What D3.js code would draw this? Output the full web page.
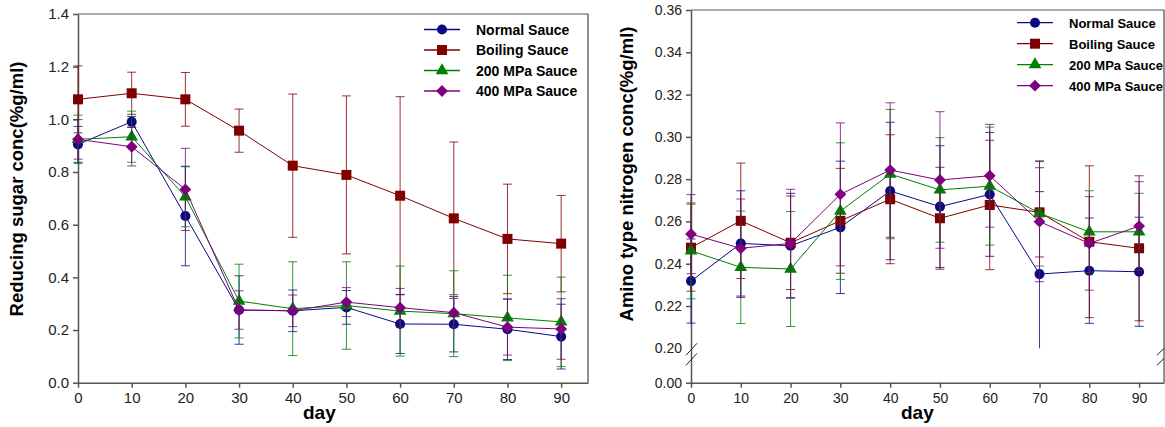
<!DOCTYPE html>
<html>
<head>
<meta charset="utf-8">
<script src="https://cdn.jsdelivr.net/npm/d3@7"></script>
<style>
  body { margin: 0; background: #fff; }
  svg { display: block; font-family: Arial, "Liberation Sans", sans-serif; }
</style>
</head>
<body>
<svg id="chart" width="1165" height="427"></svg>
<script>
// storage days
const days = [0, 10, 20, 30, 40, 50, 60, 70, 80, 90];
const seriesNames = ['Normal Sauce', 'Boiling Sauce', '200 MPa Sauce', '400 MPa Sauce'];

// reducing sugar (%g/ml) mean and error
const sugarNormal = [0.905, 0.991, 0.633, 0.276, 0.273, 0.286, 0.223, 0.222, 0.203, 0.175];
const sugarNormalErr = [0.068, 0.02, 0.189, 0.13, 0.079, 0.064, 0.112, 0.105, 0.115, 0.123];
const sugarBoiling = [1.076, 1.099, 1.076, 0.957, 0.824, 0.789, 0.710, 0.624, 0.546, 0.528];
const sugarBoilingErr = [0.127, 0.08, 0.102, 0.082, 0.272, 0.30, 0.376, 0.29, 0.208, 0.183];
const sugar200 = [0.924, 0.934, 0.706, 0.310, 0.281, 0.293, 0.272, 0.262, 0.246, 0.231];
const sugar200Err = [0.092, 0.097, 0.114, 0.14, 0.178, 0.166, 0.171, 0.163, 0.162, 0.17];
const sugar400 = [0.924, 0.896, 0.734, 0.276, 0.273, 0.306, 0.285, 0.266, 0.211, 0.204];
const sugar400Err = [0.075, 0.073, 0.156, 0.073, 0.06, 0.055, 0.073, 0.054, 0.106, 0.115];

// amino type nitrogen (%g/ml) mean and error
const aminoNormal = [0.2318, 0.2496, 0.2485, 0.2572, 0.2744, 0.2670, 0.2728, 0.2351, 0.2367, 0.2362];
const aminoNormalErr = [0.0199, 0.0249, 0.0248, 0.0313, 0.0325, 0.0288, 0.0293, 0.0390, 0.0249, 0.0258];
const aminoBoiling = [0.2476, 0.2603, 0.2499, 0.2603, 0.2705, 0.2615, 0.2678, 0.2643, 0.2504, 0.2473];
const aminoBoilingErr = [0.0206, 0.0273, 0.0221, 0.0248, 0.0305, 0.0241, 0.0306, 0.0211, 0.0359, 0.0343];
const amino200 = [0.2461, 0.2383, 0.2375, 0.2649, 0.2824, 0.2749, 0.2767, 0.2638, 0.2551, 0.2551];
const amino200Err = [0.0227, 0.0266, 0.0272, 0.0323, 0.0306, 0.0247, 0.0279, 0.0249, 0.0194, 0.0182];
const amino400 = [0.2540, 0.2473, 0.2496, 0.2728, 0.2843, 0.2796, 0.2816, 0.2599, 0.2496, 0.2578];
const amino400Err = [0.0187, 0.0233, 0.0256, 0.0338, 0.0318, 0.0323, 0.0243, 0.0284, 0.0221, 0.0210];

const sugarTicks = [0, 0.2, 0.4, 0.6, 0.8, 1.0, 1.2, 1.4];
const aminoTicks = [0, 0.20, 0.22, 0.24, 0.26, 0.28, 0.30, 0.32, 0.34, 0.36];

const colors = ['#0a0a85', '#800000', '#008000', '#800080'];
const shapes = ['circle', 'square', 'triangle', 'diamond'];

const svg = d3.select('#chart');

function marker(sel, shape, color) {
  let sym;
  if (shape === 'circle') sym = d3.symbol(d3.symbolCircle, 80);
  else if (shape === 'square') sym = d3.symbol(d3.symbolSquare, 100);
  else if (shape === 'triangle') sym = d3.symbol(d3.symbolTriangle, 70);
  else sym = d3.symbol(d3.symbolSquare, 70);
  sel.append('path')
    .attr('d', sym())
    .attr('fill', color)
    .attr('transform', function () {
      const t = d3.select(this).attr('transform') || '';
      return t + (shape === 'diamond' ? ' rotate(45)' : '');
    });
}

function drawPanel(cfg) {
  const x = d3.scaleLinear().domain([0, 95]).range([cfg.left, cfg.right]);
  const y = d3.scaleLinear().domain(cfg.yDomain).range(cfg.yRange);
  const g = svg.append('g');

  // frame top/right
  g.append('line').attr('x1', cfg.left).attr('x2', cfg.right).attr('y1', cfg.top).attr('y2', cfg.top)
    .attr('stroke', '#555').attr('stroke-width', 1.2);
  g.append('line').attr('x1', cfg.right).attr('x2', cfg.right).attr('y1', cfg.top).attr('y2', cfg.bottom)
    .attr('stroke', '#222').attr('stroke-width', 1);

  const xAxis = g.append('g')
    .attr('transform', `translate(0,${cfg.bottom})`)
    .call(d3.axisBottom(x).tickValues(days).tickSize(5).tickSizeOuter(0).tickPadding(5));
  xAxis.selectAll('text').attr('font-size', cfg.tickFont).attr('fill', '#222');
  xAxis.selectAll('path, line').attr('stroke', '#555').attr('stroke-width', 1.5);

  const yAxis = g.append('g')
    .attr('transform', `translate(${cfg.left},0)`)
    .call(d3.axisLeft(y).tickValues(cfg.ticks).tickFormat(d3.format(cfg.fmt)).tickSize(5).tickSizeOuter(0).tickPadding(4));
  yAxis.selectAll('text').attr('font-size', cfg.tickFont).attr('fill', '#222');
  yAxis.selectAll('path, line').attr('stroke', '#555').attr('stroke-width', 1.5);
  if (cfg.breakAt !== undefined) {
    yAxis.selectAll('.tick').filter(d => d === cfg.breakAt).select('line').remove();
  }

  // axis titles
  g.append('text')
    .attr('transform', `translate(${cfg.titleX},${cfg.titleY}) rotate(-90)`)
    .attr('text-anchor', 'middle')
    .attr('font-weight', 'bold').attr('font-size', '18.5px')
    .text(cfg.yTitle);
  g.append('text')
    .attr('x', cfg.dayX).attr('y', 419)
    .attr('font-weight', 'bold').attr('font-size', '19px')
    .text('day');

  const floor = cfg.breakAt !== undefined ? cfg.breakAt : -Infinity;

  cfg.series.forEach((s, i) => {
    const col = colors[i];
    const pts = days.map((d, k) => ({ day: d, v: s.values[k], e: s.errs[k] }));

    // error bars
    const eb = g.append('g').attr('stroke', col).attr('stroke-width', 1).attr('stroke-opacity', 0.8);
    pts.forEach(p => {
      const hi = p.v + p.e, lo = Math.max(p.v - p.e, floor);
      eb.append('line').attr('x1', x(p.day)).attr('x2', x(p.day)).attr('y1', y(hi)).attr('y2', y(lo));
      eb.append('line').attr('x1', x(p.day) - 4.5).attr('x2', x(p.day) + 4.5).attr('y1', y(hi)).attr('y2', y(hi));
      if (p.v - p.e > floor) {
        eb.append('line').attr('x1', x(p.day) - 4.5).attr('x2', x(p.day) + 4.5).attr('y1', y(lo)).attr('y2', y(lo));
      }
    });

    g.append('path')
      .datum(pts)
      .attr('fill', 'none').attr('stroke', col).attr('stroke-width', 1)
      .attr('d', d3.line().x(p => x(p.day)).y(p => y(p.v)));

    pts.forEach(p => {
      const m = g.append('g').attr('transform', `translate(${x(p.day)},${y(p.v)})`);
      marker(m, shapes[i], col);
    });

    // legend row
    const ly = cfg.legY + i * cfg.legStep;
    g.append('line').attr('x1', cfg.legX).attr('x2', cfg.legX + 36).attr('y1', ly).attr('y2', ly)
      .attr('stroke', col).attr('stroke-width', 1.3);
    const lm = g.append('g').attr('transform', `translate(${cfg.legX + 18},${ly})`);
    marker(lm, shapes[i], col);
    g.append('text').attr('x', cfg.legX + 52).attr('y', ly + 5)
      .attr('font-weight', 'bold').attr('font-size', cfg.legFont)
      .text(seriesNames[i]);
  });

  // axis break marks
  if (cfg.breakAt !== undefined) {
    const yb = y(cfg.breakAt);
    const marks = g.append('g').attr('stroke', '#222').attr('stroke-width', 1);
    [7, 17].forEach(off => {
      marks.append('line').attr('x1', cfg.left - 5).attr('x2', cfg.left + 6)
        .attr('y1', yb + off).attr('y2', yb + off - 12);
      marks.append('line').attr('x1', cfg.right - 7).attr('x2', cfg.right)
        .attr('y1', yb + off).attr('y2', yb + off - 7);
    });
  }
}

drawPanel({
  left: 78, right: 588, top: 14, bottom: 382.7,
  yDomain: [0, 1.4], yRange: [382.7, 14],
  ticks: sugarTicks, fmt: '.1f', tickFont: '15px',
  yTitle: 'Reducing sugar conc(%g/ml)', titleX: 23, titleY: 189, dayX: 303,
  legX: 424, legY: 29.5, legStep: 20.5, legFont: '14px',
  series: [
    { values: sugarNormal, errs: sugarNormalErr },
    { values: sugarBoiling, errs: sugarBoilingErr },
    { values: sugar200, errs: sugar200Err },
    { values: sugar400, errs: sugar400Err }
  ]
});

drawPanel({
  left: 691, right: 1164, top: 10, bottom: 382.7,
  // piecewise scale: 0-0.20 squeezed into the bottom strip
  yDomain: [0, 0.20, 0.36], yRange: [382.7, 348.3, 10],
  ticks: aminoTicks, fmt: '.2f', tickFont: '14px', breakAt: 0.20,
  yTitle: 'Amino type nitrogen conc(%g/ml)', titleX: 633, titleY: 174, dayX: 901,
  legX: 1017, legY: 22.7, legStep: 21, legFont: '13px',
  series: [
    { values: aminoNormal, errs: aminoNormalErr },
    { values: aminoBoiling, errs: aminoBoilingErr },
    { values: amino200, errs: amino200Err },
    { values: amino400, errs: amino400Err }
  ]
});
</script>
</body>
</html>
